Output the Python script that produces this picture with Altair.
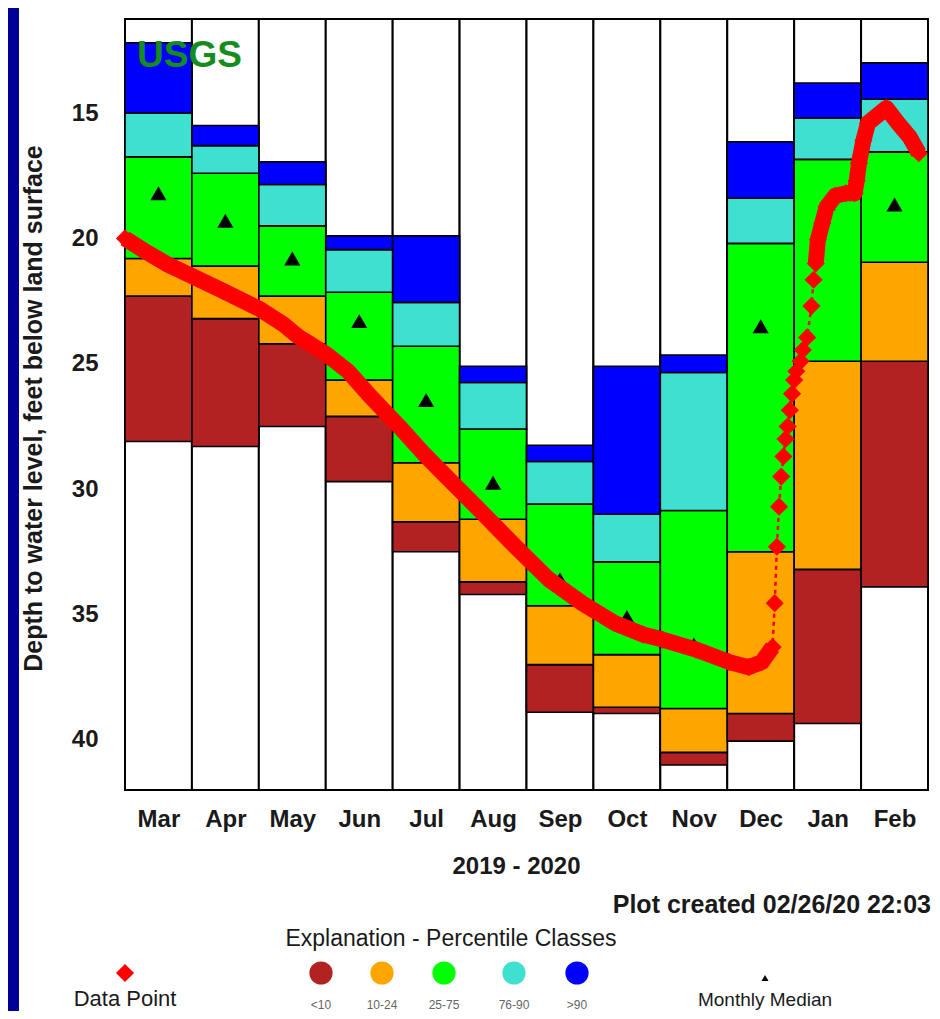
import altair as alt
import pandas as pd

# ---------------- data ----------------
months = ["Mar", "Apr", "May", "Jun", "Jul", "Aug", "Sep", "Oct", "Nov", "Dec", "Jan", "Feb"]

# depth to water (ft) of the class boundaries, shallow -> deep, per month
level_max = [12.2, 15.5, 16.95, 19.9, 19.9, 25.1, 28.25, 25.1, 24.65, 16.15, 13.8, 13.0]
level_p90 = [15.0, 16.3, 17.85, 20.45, 22.55, 25.75, 28.9, 31.0, 25.35, 18.4, 15.2, 14.45]
level_p75 = [16.75, 17.4, 19.5, 22.15, 24.3, 27.6, 30.6, 32.9, 30.85, 20.2, 16.85, 16.55]
level_p25 = [20.8, 21.1, 22.3, 25.65, 28.95, 31.2, 34.65, 36.6, 38.75, 32.5, 24.9, 20.95]
level_p10 = [22.3, 23.2, 24.2, 27.1, 31.3, 33.7, 37.0, 38.7, 40.5, 38.95, 33.2, 24.9]
level_min = [28.1, 28.3, 27.5, 29.7, 32.5, 34.2, 38.9, 38.95, 41.0, 40.05, 39.35, 33.9]
monthly_median = [18.2, 19.3, 20.8, 23.3, 26.45, 29.75, 33.6, 35.1, 36.2, 23.5, 18.6, 18.65]

classes = ["<10", "10-24", "25-75", "76-90", ">90"]
class_colors = ["#B22222", "#FFA500", "#00FF00", "#40E0D0", "#0000FF"]

obs_dates = [
    "2019-03-01", "2019-03-11", "2019-03-21", "2019-04-01", "2019-04-15", "2019-05-01",
    "2019-05-12", "2019-05-19", "2019-06-01", "2019-06-11", "2019-06-21", "2019-07-04",
    "2019-07-15", "2019-07-27", "2019-08-11", "2019-08-27", "2019-09-11", "2019-09-26",
    "2019-10-11", "2019-10-24", "2019-11-02", "2019-11-17", "2019-12-02", "2019-12-11",
    "2019-12-17", "2019-12-22", "2019-12-23", "2019-12-24", "2019-12-25", "2019-12-26",
    "2019-12-27", "2019-12-28", "2019-12-29", "2019-12-30", "2019-12-31", "2020-01-01",
    "2020-01-02", "2020-01-04", "2020-01-05", "2020-01-07", "2020-01-09", "2020-01-10",
    "2020-01-11", "2020-01-12", "2020-01-14", "2020-01-16", "2020-01-20", "2020-01-25",
    "2020-01-29", "2020-01-30", "2020-01-31", "2020-02-02", "2020-02-04", "2020-02-08",
    "2020-02-12", "2020-02-17", "2020-02-22", "2020-02-26",
]
obs_depth = [
    20.0, 20.55, 21.05, 21.5, 22.1, 22.8,
    23.4, 23.9, 24.6, 25.3, 26.3, 27.5,
    28.55, 29.6, 30.9, 32.3, 33.6, 34.55,
    35.35, 35.8, 36.0, 36.4, 36.9, 37.1,
    36.9, 36.3, 34.55, 32.3, 30.7, 29.5,
    28.7, 28.0, 27.5, 26.85, 26.2, 25.65,
    25.3, 24.9, 24.45, 23.95, 22.7, 21.65,
    21.0, 20.05, 19.4, 18.75, 18.3, 18.2,
    18.2, 17.7, 17.0, 16.1, 15.4, 15.1,
    14.8, 15.4, 15.95, 16.6,
]
# periods with continuous (daily) record -> drawn as a solid thick trace
dense_periods = [("2019-03-01", "2019-12-22"), ("2020-01-11", "2020-02-26")]

legend_items = ["Data Point", "<10", "10-24", "25-75", "76-90", ">90", "Monthly Median"]

# ---------------- tables ----------------
FONT = "Liberation Sans"
W, H = 803, 771
TXT = "#1a1a1a"
NAVY = "#000099"

cols = pd.DataFrame({"month": months, "start": list(range(12)), "end": list(range(1, 13))})

bounds = [level_min, level_p10, level_p25, level_p75, level_p90, level_max]
rows = []
for i, m in enumerate(months):
    for k, c in enumerate(classes):
        rows.append({"month": m, "start": i, "end": i + 1, "cls": c,
                     "deep": bounds[k][i], "shallow": bounds[k + 1][i]})
cells = pd.DataFrame(rows)

med = pd.DataFrame({"month": months, "mid": [i + 0.5 for i in range(12)], "median": monthly_median})

d = pd.to_datetime(pd.Series(obs_dates))
obs = pd.DataFrame({
    "date": obs_dates,
    "pos": (d.dt.year - 2019) * 12 + d.dt.month - 3 + (d.dt.day - 1) / d.dt.days_in_month,
    "depth": obs_depth,
})
run = []
for ds in d:
    r = -1
    for j, (a, b) in enumerate(dense_periods):
        if pd.Timestamp(a) <= ds <= pd.Timestamp(b):
            r = j
    run.append(r)
obs["run"] = run

# ---------------- scales / axes ----------------
xs = alt.Scale(domain=[0, 12], nice=False, zero=False)
ys = alt.Scale(domain=[11.25, 42], reverse=True, nice=False, zero=False)

label_expr = "[" + ",".join("'%s'" % m for m in months) + "][floor(datum.value)]"
xaxis = alt.Axis(orient="bottom", values=[i + 0.5 for i in range(12)], labelExpr=label_expr,
                 ticks=False, domain=False, grid=False, labelAngle=0,
                 labelFont=FONT, labelFontSize=24, labelFontWeight="bold", labelColor=TXT,
                 labelPadding=17,
                 title="2019 - 2020", titleFont=FONT, titleFontSize=24, titleFontWeight="bold",
                 titleColor=TXT, titleX=391, titleY=76, titleBaseline="middle")
yaxis = alt.Axis(orient="left", values=[15, 20, 25, 30, 35, 40], ticks=False, domain=False,
                 grid=False, labelFont=FONT, labelFontSize=24, labelFontWeight="bold",
                 labelColor=TXT, labelPadding=27,
                 title="Depth to water level, feet below land surface", titleFont=FONT,
                 titleFontSize=25, titleFontWeight="bold", titleColor=TXT,
                 titleX=-92, titleY=389, titleBaseline="middle", titleAngle=-90)

# ---------------- main plot layers ----------------
column_layer = alt.Chart(cols).mark_rect(fill="white", stroke="black", strokeWidth=2).encode(
    x=alt.X("start:Q", scale=xs, axis=xaxis), x2="end:Q",
    y=alt.value(0), y2=alt.value(H))

cell_layer = alt.Chart(cells).mark_rect(stroke="black", strokeWidth=1.6).encode(
    x=alt.X("start:Q", scale=xs, axis=xaxis), x2="end:Q",
    y=alt.Y("shallow:Q", scale=ys, axis=yaxis), y2="deep:Q",
    fill=alt.Fill("cls:N", scale=alt.Scale(domain=classes, range=class_colors), legend=None))

median_layer = alt.Chart(med).mark_point(shape="triangle-up", filled=True, color="black",
                                         opacity=1, size=260).encode(
    x=alt.X("mid:Q", scale=xs, axis=xaxis), y=alt.Y("median:Q", scale=ys, axis=yaxis))

usgs = alt.Chart(pd.DataFrame({"t": ["USGS"]})).mark_text(
    align="left", baseline="alphabetic", font=FONT, fontSize=37, fontWeight="bold",
    color="#148C1E").encode(text="t:N", x=alt.value(12), y=alt.value(48))

dotted = alt.Chart(obs).mark_line(color="red", strokeWidth=2.5, strokeDash=[4, 4]).encode(
    x=alt.X("pos:Q", scale=xs, axis=xaxis), y=alt.Y("depth:Q", scale=ys, axis=yaxis),
    order="pos:Q")

thick = alt.Chart(obs).transform_filter("datum.run >= 0").mark_line(
    color="red", strokeWidth=16, strokeJoin="round", strokeCap="butt").encode(
    x=alt.X("pos:Q", scale=xs, axis=xaxis), y=alt.Y("depth:Q", scale=ys, axis=yaxis),
    detail="run:N", order="pos:Q")

diamonds = alt.Chart(obs).mark_point(shape="diamond", filled=True, color="red",
                                     opacity=1, size=330).encode(
    x=alt.X("pos:Q", scale=xs, axis=xaxis), y=alt.Y("depth:Q", scale=ys, axis=yaxis))

main = alt.layer(column_layer, cell_layer, median_layer, usgs, dotted, thick, diamonds)

# ---------------- frame / annotation / legend ----------------
strip = alt.Chart(pd.DataFrame({"a": [0]})).mark_rect(fill=NAVY).encode(
    x=alt.value(-117), x2=alt.value(-106), y=alt.value(-11), y2=alt.value(H + 221))

created = alt.Chart(pd.DataFrame({"t": ["Plot created 02/26/20 22:03"]})).mark_text(
    align="right", baseline="middle", font=FONT, fontSize=25, fontWeight="bold",
    color=TXT).encode(text="t:N", x=alt.value(806), y=alt.value(886))

explain = alt.Chart(pd.DataFrame({"t": ["Explanation - Percentile Classes"]})).mark_text(
    align="center", baseline="middle", font=FONT, fontSize=23, color=TXT).encode(
    text="t:N", x=alt.value(326), y=alt.value(920))

leg = pd.DataFrame({"item": legend_items})
idx_expr = "indexof([" + ",".join("'%s'" % s for s in legend_items) + "], datum.item)"
leg_x = alt.X("idx:Q", scale=alt.Scale(domain=[0, 1, 2, 3, 4, 5, 6],
                                       range=[0, 196, 257, 319, 389, 452, 640]), axis=None)
legb = alt.Chart(leg).transform_calculate(idx=idx_expr)


def only(items):
    return alt.FieldOneOfPredicate(field="item", oneOf=items)


leg_diamond = legb.transform_filter(only(["Data Point"])).mark_point(
    shape="diamond", filled=True, color="red", opacity=1, size=330).encode(
    x=leg_x, y=alt.value(954))
leg_circles = legb.transform_filter(only(classes)).mark_point(
    shape="circle", filled=True, opacity=1, size=540).encode(
    x=leg_x, y=alt.value(954),
    color=alt.Color("item:N", scale=alt.Scale(domain=classes, range=class_colors), legend=None))
leg_tri = legb.transform_filter(only(["Monthly Median"])).mark_point(
    shape="triangle-up", filled=True, color="black", opacity=1, size=50).encode(
    x=leg_x, y=alt.value(959))

leg_dp = legb.transform_filter(only(["Data Point"])).mark_text(
    baseline="middle", font=FONT, fontSize=22, color=TXT).encode(
    x=leg_x, y=alt.value(980), text="item:N")
leg_mm = legb.transform_filter(only(["Monthly Median"])).mark_text(
    baseline="middle", font=FONT, fontSize=19, color=TXT).encode(
    x=leg_x, y=alt.value(981), text="item:N")
leg_small = legb.transform_filter(only(classes)).mark_text(
    baseline="middle", font=FONT, fontSize=12, color="#666666").encode(
    x=leg_x, y=alt.value(986), text="item:N")

legend_layer = alt.layer(leg_diamond, leg_circles, leg_tri, leg_dp, leg_mm, leg_small)

chart = alt.layer(strip, main, created, explain, legend_layer).resolve_scale(
    x="independent", y="independent", color="independent"
).properties(
    width=W, height=H,
    autosize=alt.AutoSizeParams(type="none"),
    padding={"left": 117, "top": 11, "right": 4, "bottom": 221},
    background="white",
).configure_view(stroke=None)

chart.save("out.html", embed_options={"renderer": "svg", "actions": False})
